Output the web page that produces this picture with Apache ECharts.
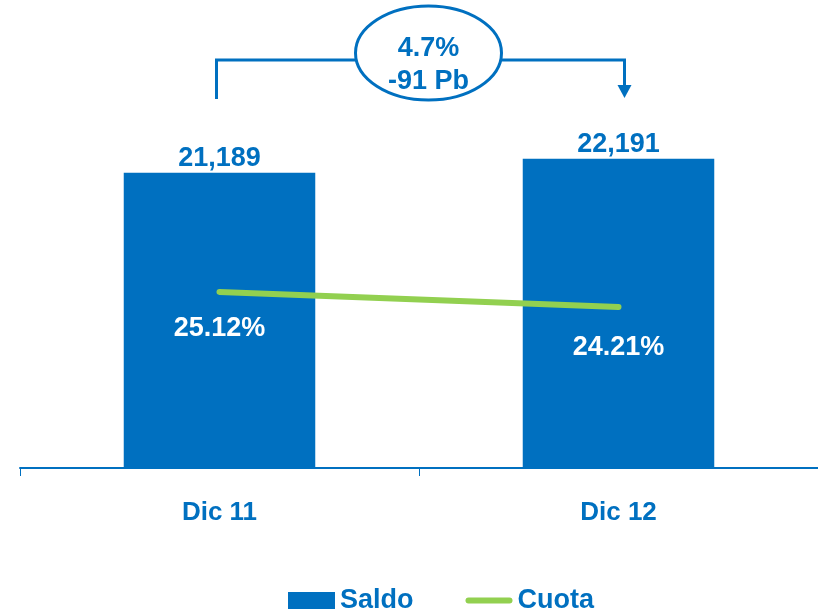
<!DOCTYPE html>
<html>
<head>
<meta charset="utf-8">
<script src="https://cdn.jsdelivr.net/npm/echarts@6/dist/echarts.min.js"></script>
<style>
  html, body { margin: 0; padding: 0; background: #fff; }
  #main { width: 818px; height: 611px; }
</style>
</head>
<body>
<div id="main"></div>
<script>
const categories = ['Dic 11', 'Dic 12'];
const saldo = [21189, 22191];
const cuota = [25.12, 24.21];
const changeText = ['4.7%', '-91 Pb'];

const blue = '#0070C0';
const green = '#92D050';
const font = '"Liberation Sans", Arial, sans-serif';

const chart = echarts.init(document.getElementById('main'));

chart.setOption({
    animation: false,
    grid: { left: 20, right: 0, top: 50, bottom: 143 },
    legend: {
        left: 283,
        top: 582,
        itemWidth: 47,
        itemHeight: 17,
        itemGap: 52,
        textStyle: { color: blue, fontSize: 27, fontWeight: 'bold', fontFamily: font },
        data: [
            { name: 'Saldo', icon: 'rect' },
            { name: 'Cuota', icon: 'path://M3,0h41a3,3 0 0 1 0,6h-41a3,3 0 0 1 0,-6z' }
        ]
    },
    xAxis: {
        type: 'category',
        data: categories,
        axisLine: { lineStyle: { color: blue, width: 2 } },
        axisTick: { show: true, length: 8, lineStyle: { color: blue, width: 1 } },
        axisLabel: { color: blue, fontSize: 26, fontWeight: 'bold', fontFamily: font, margin: 32 }
    },
    yAxis: [
        { type: 'value', min: 0, max: 30000, show: false },
        { type: 'value', min: 14.45, max: 39.78, show: false }
    ],
    series: [
        {
            name: 'Saldo',
            type: 'bar',
            data: saldo,
            barWidth: '48%',
            itemStyle: { color: blue },
            label: {
                show: true,
                position: 'top',
                distance: 1,
                color: blue,
                fontSize: 27,
                fontWeight: 'bold',
                fontFamily: font,
                formatter: p => p.value.toLocaleString('en-US')
            }
        },
        {
            name: 'Cuota',
            type: 'line',
            yAxisIndex: 1,
            data: cuota.map((v, i) => ({ value: v, label: { distance: i === 0 ? 23 : 27 } })),
            symbol: 'circle',
            symbolSize: 0,
            showSymbol: true,
            lineStyle: { color: green, width: 6, cap: 'round' },
            itemStyle: { color: green },
            label: {
                show: true,
                position: 'bottom',
                color: '#fff',
                fontSize: 27,
                fontWeight: 'bold',
                fontFamily: font,
                formatter: p => p.value.toFixed(2) + '%'
            }
        }
    ]
});

// annotation bracket between the two bars
const x1 = chart.convertToPixel({ xAxisIndex: 0 }, categories[0]) - 3;
const x2 = chart.convertToPixel({ xAxisIndex: 0 }, categories[1]) + 6;
const yTop = 60, yLeft = 99, yArrow = 98;
const cx = (x1 + x2) / 2 + 8;

chart.setOption({
    graphic: [
        {
            type: 'polyline',
            shape: { points: [[x1, yLeft], [x1, yTop], [x2, yTop], [x2, yArrow - 12]] },
            style: { stroke: blue, lineWidth: 3, fill: null }
        },
        {
            type: 'polygon',
            shape: { points: [[x2 - 7, yArrow - 13], [x2 + 7, yArrow - 13], [x2, yArrow]] },
            style: { fill: blue }
        },
        {
            type: 'ellipse',
            shape: { cx: cx, cy: 53, rx: 73, ry: 47 },
            style: { fill: '#fff', stroke: blue, lineWidth: 3 }
        },
        {
            type: 'text',
            x: cx, y: 49,
            style: { text: changeText[0], fill: blue, font: 'bold 27px ' + font, align: 'center', verticalAlign: 'middle' }
        },
        {
            type: 'text',
            x: cx, y: 82,
            style: { text: changeText[1], fill: blue, font: 'bold 27px ' + font, align: 'center', verticalAlign: 'middle' }
        }
    ]
});
</script>
</body>
</html>
